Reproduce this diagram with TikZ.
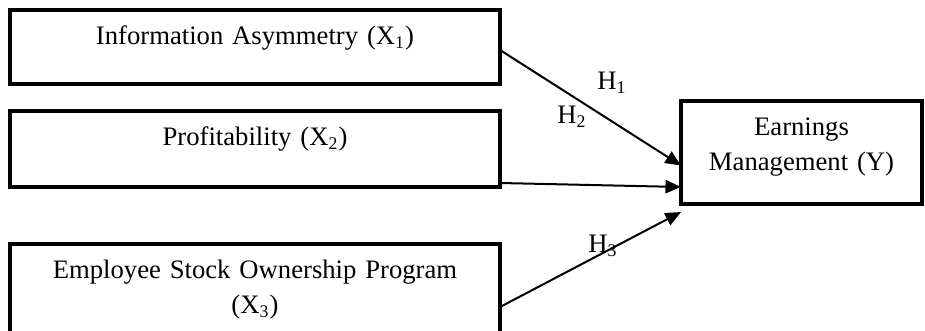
\documentclass[tikz,border=0pt]{standalone}
\usepackage{fontspec}
\setmainfont{Liberation Serif}
\usetikzlibrary{arrows.meta,calc}
\begin{document}
\begin{tikzpicture}[box/.style={draw,line width=1.6pt,inner sep=0pt,outer sep=0pt,align=center,anchor=north west,text height=15.75pt,font=\fontsize{12}{15.5}\selectfont},
hyp/.style={inner sep=0pt,anchor=base,font=\fontsize{12}{14}\selectfont},
arr/.style={line width=0.9pt,-{Triangle[length=7pt,width=6pt]}},
x=0.45pt,y=-0.45pt]
\useasboundingbox (0,0) rectangle (925,331);
\clip (0,0) rectangle (925,331);

\node[box,text width=220.5pt,text depth=17.55pt] (x1) at (10,10) {Information Asymmetry (X\textsubscript{1})};

\node[box,text width=220.5pt,text depth=18.45pt] (x2) at (10,111) {Profitability (X\textsubscript{2})};

\node[box,text width=220.5pt,text depth=29.7pt] (x3) at (10,244) {Employee Stock Ownership Program\\(X\textsubscript{3})};

\node[box,text width=108.45pt,text depth=30.6pt,font=\fontsize{12}{15.75}\selectfont] (em) at (681,101) {Earnings\\Management (Y)};

%hypotheses
\node[hyp] (h1) at (612,90) {H\textsubscript{1}};
\node[hyp] (h2) at (572,124) {H\textsubscript{2}};
\node[hyp] (h3) at (603,253) {H\textsubscript{3}};

\draw[arr] ($(x1.east)+(0,3)$) -- ($(em.west)+(0,13)$);
\draw[arr] ($(x2.south east)+(0,-4)$) -- ($(em.south west)+(0,-17)$);
\draw[arr] ($(x3.north east)+(0,63)$) -- ($(em.south west)+(0,8)$);

\end{tikzpicture}
\end{document}
